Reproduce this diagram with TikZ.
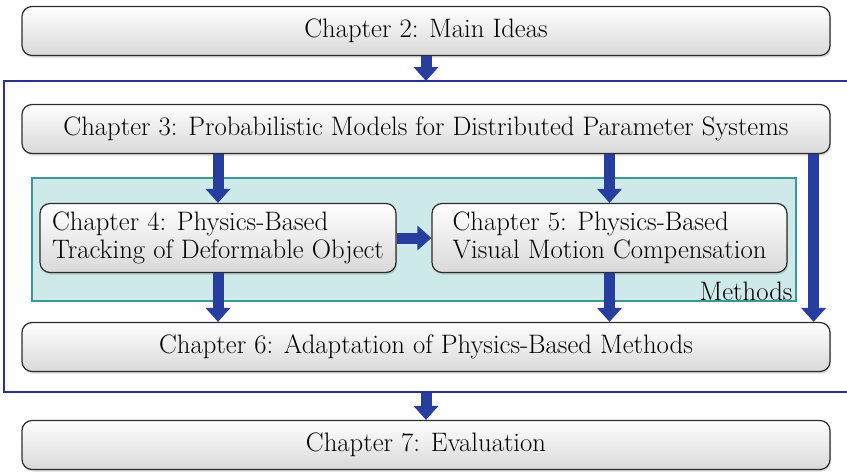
\documentclass[tikz,border=0pt]{standalone}
\usetikzlibrary{arrows.meta,shadows}
\definecolor{arrowblue}{RGB}{40,62,158}
\definecolor{framblue}{RGB}{40,50,145}
\definecolor{tealfill}{RGB}{206,233,234}
\definecolor{tealline}{RGB}{60,152,152}
\definecolor{boxline}{RGB}{45,45,45}
\tikzset{
  chbox/.style={draw=boxline, line width=1.2pt, rounded corners=10pt,
    top color=white, bottom color=black!15, inner sep=0pt,
    drop shadow={opacity=0.3, shadow xshift=1pt, shadow yshift=-2pt},
    font=\fontsize{26.7}{27.5}\selectfont},
  widebox/.style={chbox, minimum width=808pt, minimum height=49pt},
  halfbox/.style={chbox, minimum height=69pt, align=left},
  bigarrow/.style={draw=arrowblue, line width=11pt,
    -{Triangle[width=24pt,length=14pt]}},
}
\begin{document}
\begin{tikzpicture}[x=1pt,y=-1pt]
\useasboundingbox (0,0) rectangle (847,472);
% frame (open on the right)
\draw[framblue, line width=1.4pt] (850,81) -- (4,81) -- (4,392) -- (850,392);
\coordinate (ftop) at (426,81);
\coordinate (fbot) at (426,393);
% methods area
\node[draw=tealline, fill=tealfill, line width=1.4pt, minimum width=764pt,
  minimum height=123pt, inner sep=0pt] (meth) at (414,239.5) {};
\node[anchor=south east, inner xsep=4pt, inner ysep=1pt, font=\fontsize{26.7}{27.5}\selectfont]
  (methlabel) at (meth.south east) {Methods};
% boxes
\node[widebox] (c2) at (426,31) {Chapter 2: Main Ideas};
\node[widebox] (c3) at (426,129) {Chapter 3: Probabilistic Models for Distributed Parameter Systems};
\node[halfbox, minimum width=356pt] (c4) at (218,238) {Chapter 4: Physics-Based\\Tracking of Deformable Object};
\node[halfbox, minimum width=355pt] (c5) at (609.5,238) {Chapter 5: Physics-Based\\Visual Motion Compensation};
\node[widebox] (c6) at (426,347) {Chapter 6: Adaptation of Physics-Based Methods};
\node[widebox] (c7) at (426,445) {Chapter 7: Evaluation};
% arrows
\draw[bigarrow] (c2.south) -- (ftop);
\draw[bigarrow] (c4.north |- c3.south) -- (c4.north);
\draw[bigarrow] (c5.north |- c3.south) -- (c5.north);
\draw[bigarrow] ([xshift=-17pt]c3.south east) -- ([xshift=-17pt]c6.north east);
\draw[bigarrow] (c4.east) -- (c5.west);
\draw[bigarrow] (c4.south) -- (c4.south |- c6.north);
\draw[bigarrow] (c5.south) -- (c5.south |- c6.north);
\draw[bigarrow] (fbot) -- (c7.north);
\end{tikzpicture}
\end{document}
